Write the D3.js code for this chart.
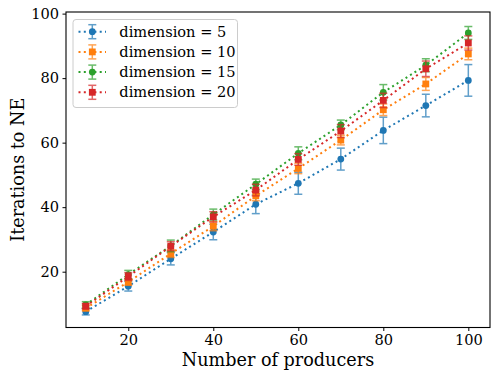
<!DOCTYPE html>
<html>
<head>
<meta charset="utf-8">
<script src="https://cdn.jsdelivr.net/npm/d3@7"></script>
<style>
  body { margin: 0; background: #fff; }
  svg { font-family: "DejaVu Serif", serif; }
</style>
</head>
<body>
<svg id="chart" width="498" height="381"></svg>
<script>
// data
const producers = [10, 20, 30, 40, 50, 60, 70, 80, 90, 100]
const dimensions = [5, 10, 15, 20]
const dim5 = [7.6, 15.5, 24.0, 32.3, 40.9, 47.4, 54.9, 63.8, 71.5, 79.3]
const dim10 = [8.7, 16.8, 25.6, 34.1, 43.5, 52.0, 60.8, 70.2, 78.2, 87.5]
const dim15 = [9.7, 19.1, 28.0, 37.7, 47.1, 56.7, 65.5, 75.6, 84.0, 94.0]
const dim20 = [9.3, 18.5, 27.9, 37.0, 45.3, 54.8, 63.6, 73.1, 82.9, 90.9]
const err5 = [1.0, 1.5, 1.9, 2.4, 2.9, 3.4, 3.4, 4.1, 3.5, 4.9]
const err10 = [0.8, 1.0, 1.2, 1.4, 1.5, 1.6, 1.5, 1.8, 2.0, 1.8]
const err15 = [1.0, 1.3, 1.8, 1.7, 1.6, 2.0, 1.5, 2.4, 2.0, 2.0]
const err20 = [0.8, 1.2, 1.4, 1.6, 1.8, 1.8, 2.0, 2.2, 2.4, 2.2]
const xTicks = [20, 40, 60, 80, 100]
const yTicks = [20, 40, 60, 80, 100]

const colors = ["#1f77b4", "#ff7f0e", "#2ca02c", "#d62728"]
const markers = ["circle", "square", "circle", "square"]
const values = [dim5, dim10, dim15, dim20]
const errors = [err5, err10, err15, err20]

const series = dimensions.map((d, i) => ({
    label: `dimension = ${d}`,
    color: colors[i],
    marker: markers[i],
    points: producers.map((p, j) => ({x: p, y: values[i][j], e: errors[i][j]}))
}))

const svg = d3.select("#chart")
const plotLeft = 66, plotRight = 490, plotTop = 12, plotBottom = 327.5

const x = d3.scaleLinear().domain([5.35, 105.1]).range([plotLeft, plotRight])
const y = d3.scaleLinear().domain([2.7, 100.5]).range([plotBottom, plotTop])

// axes
const xAxis = d3.axisBottom(x).tickValues(xTicks).tickSize(3.5).tickPadding(3.5)
const yAxis = d3.axisLeft(y).tickValues(yTicks).tickSize(3.5).tickPadding(3.5)

svg.append("g").attr("transform", `translate(0,${plotBottom})`).call(xAxis)
    .call(g => g.select(".domain").remove())
    .call(g => g.selectAll("text").attr("font-size", 14.6).attr("fill", "#000").attr("font-family", "DejaVu Serif"))
    .call(g => g.selectAll("line").attr("stroke", "#000"))

svg.append("g").attr("transform", `translate(${plotLeft},0)`).call(yAxis)
    .call(g => g.select(".domain").remove())
    .call(g => g.selectAll("text").attr("font-size", 14.6).attr("fill", "#000").attr("font-family", "DejaVu Serif"))
    .call(g => g.selectAll("line").attr("stroke", "#000"))

// series
const line = d3.line().x(d => x(d.x)).y(d => y(d.y))

function drawMarker(g, m, color) {
    if (m === "circle") {
        g.append("circle").attr("r", 3.4).attr("fill", color)
    } else {
        g.append("rect").attr("x", -3.4).attr("y", -3.4).attr("width", 6.8).attr("height", 6.8).attr("fill", color)
    }
}

series.forEach(s => {
    const g = svg.append("g")
    g.append("path")
        .datum(s.points)
        .attr("d", line)
        .attr("fill", "none")
        .attr("stroke", s.color)
        .attr("stroke-width", 2)
        .attr("stroke-dasharray", "2,3.3")

    const eb = g.selectAll(".eb")
        .data(s.points)
        .join("g")
        .attr("opacity", 0.7)
        .attr("stroke", s.color)
        .attr("stroke-width", 1.5)
    eb.append("line")
        .attr("x1", d => x(d.x)).attr("x2", d => x(d.x))
        .attr("y1", d => y(d.y - d.e)).attr("y2", d => y(d.y + d.e))
    eb.append("line")
        .attr("x1", d => x(d.x) - 4).attr("x2", d => x(d.x) + 4)
        .attr("y1", d => y(d.y - d.e)).attr("y2", d => y(d.y - d.e))
    eb.append("line")
        .attr("x1", d => x(d.x) - 4).attr("x2", d => x(d.x) + 4)
        .attr("y1", d => y(d.y + d.e)).attr("y2", d => y(d.y + d.e))

    g.selectAll(".mk")
        .data(s.points)
        .join("g")
        .attr("transform", d => `translate(${x(d.x)},${y(d.y)})`)
        .each(function () { drawMarker(d3.select(this), s.marker, s.color) })
})

// frame
svg.append("rect")
    .attr("x", plotLeft).attr("y", plotTop)
    .attr("width", plotRight - plotLeft).attr("height", plotBottom - plotTop)
    .attr("fill", "none").attr("stroke", "#000").attr("stroke-width", 1.1)

// labels
svg.append("text")
    .attr("x", (plotLeft + plotRight) / 2).attr("y", 366)
    .attr("text-anchor", "middle").attr("font-size", 17.6)
    .text("Number of producers")

svg.append("text")
    .attr("transform", `translate(24,${(plotTop + plotBottom) / 2}) rotate(-90)`)
    .attr("text-anchor", "middle").attr("font-size", 17.6)
    .text("Iterations to NE")

// legend
const legend = svg.append("g")
legend.append("rect")
    .attr("x", 73).attr("y", 19.5).attr("width", 164.5).attr("height", 88)
    .attr("rx", 3).attr("fill", "#fff").attr("fill-opacity", 0.8)
    .attr("stroke", "#ccc").attr("stroke-width", 1)

series.forEach((s, i) => {
    const ly = 31.7 + i * 20.2
    const lg = legend.append("g")
    lg.append("line")
        .attr("x1", 78.5).attr("x2", 106).attr("y1", ly).attr("y2", ly)
        .attr("stroke", s.color).attr("stroke-width", 2).attr("stroke-dasharray", "2,3.3")
    const eg = lg.append("g").attr("opacity", 0.7).attr("stroke", s.color).attr("stroke-width", 1.5)
    eg.append("line").attr("x1", 92.3).attr("x2", 92.3).attr("y1", ly - 7).attr("y2", ly + 7)
    eg.append("line").attr("x1", 88.3).attr("x2", 96.3).attr("y1", ly - 7).attr("y2", ly - 7)
    eg.append("line").attr("x1", 88.3).attr("x2", 96.3).attr("y1", ly + 7).attr("y2", ly + 7)
    const mg = lg.append("g").attr("transform", `translate(92.3,${ly})`)
    drawMarker(mg, s.marker, s.color)
    lg.append("text")
        .attr("x", 119.3).attr("y", ly + 5)
        .attr("font-size", 14.6)
        .text(s.label)
})
</script>
</body>
</html>
